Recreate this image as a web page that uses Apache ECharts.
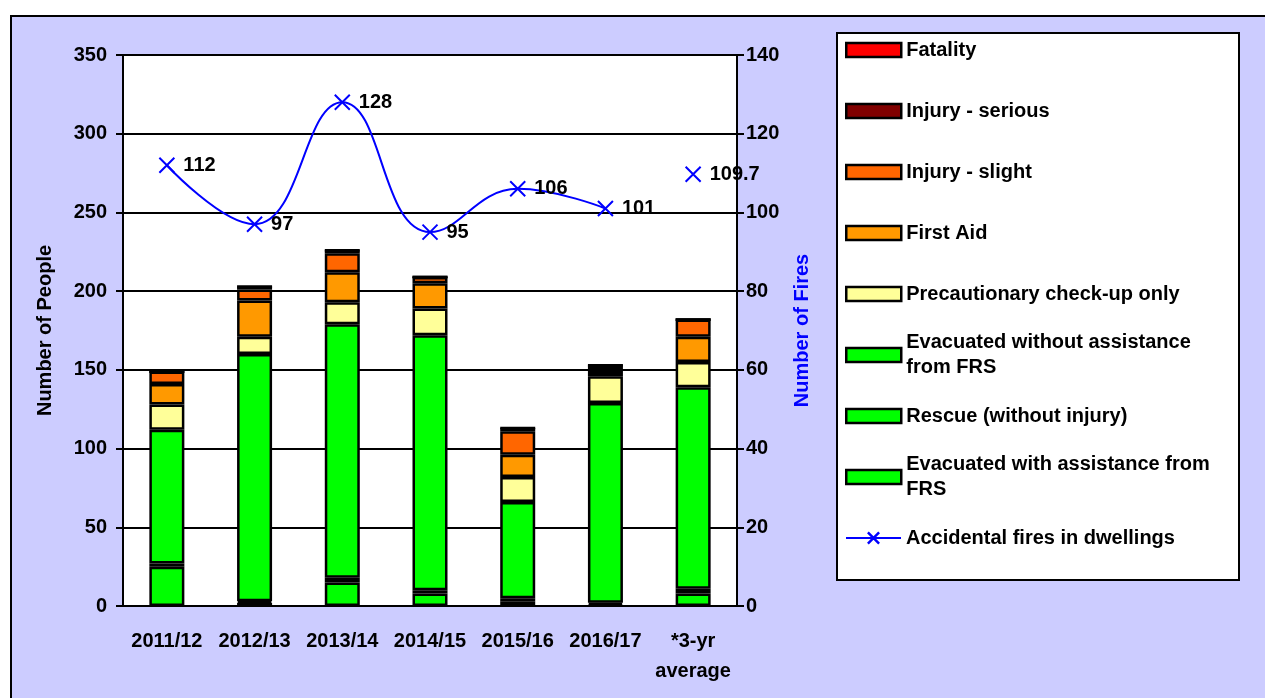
<!DOCTYPE html>
<html>
<head>
<meta charset="utf-8">
<script src="https://cdn.jsdelivr.net/npm/echarts@6/dist/echarts.min.js"></script>
<style>
  html, body { margin: 0; padding: 0; background: #fff; }
  #chart { width: 1265px; height: 698px; }
</style>
</head>
<body>
<div id="chart"></div>
<script>
// categories (x axis)
const years = ['2011/12', '2012/13', '2013/14', '2014/15', '2015/16', '2016/17', '*3-yr\naverage']

// people, stacked from the bottom up
const evacWith = [25, 2, 15, 8, 3, 1, 8]
const rescue = [2, 1, 3, 2, 2, 1, 3]
const evacWithout = [85, 157, 161, 162, 61, 127, 128]
const precaution = [16, 11, 14, 17, 16, 17, 16]
const firstAid = [13, 23, 19, 16, 14, 2, 16]
const injurySlight = [8, 7, 12, 4, 15, 2, 11]
const injurySerious = [0, 2, 2, 0, 2, 3, 0]
const fatality = [0, 0, 0, 0, 0, 0, 0]

// accidental fires (right axis)
const fires = [112, 97, 128, 95, 106, 101]
const firesAvg = 109.7

const FONT = 'Liberation Sans, Arial, sans-serif'
const txt = { fontFamily: FONT, fontWeight: 'bold', fontSize: 20, color: '#000' }

const barDefs = [
  { name: 'Evacuated with assistance from\nFRS', data: evacWith, color: '#00FF00' },
  { name: 'Rescue (without injury)', data: rescue, color: '#00FF00' },
  { name: 'Evacuated without assistance\nfrom FRS', data: evacWithout, color: '#00FF00' },
  { name: 'Precautionary check-up only', data: precaution, color: '#FFFF99' },
  { name: 'First Aid', data: firstAid, color: '#FF9900' },
  { name: 'Injury - slight', data: injurySlight, color: '#FF6600' },
  { name: 'Injury - serious', data: injurySerious, color: '#800000' },
  { name: 'Fatality', data: fatality, color: '#FF0000' }
]
const lineName = 'Accidental fires in dwellings'

const series = barDefs.map(b => ({
  name: b.name,
  type: 'bar',
  stack: 'people',
  barWidth: 35,
  data: b.data,
  itemStyle: { color: b.color, borderColor: '#000', borderWidth: 2.5 }
}))

const xMark = 'path://M0,0L10,10M10,0L0,10'
const lineCommon = {
  name: lineName,
  type: 'line',
  yAxisIndex: 1,
  symbol: xMark,
  symbolSize: 15,
  lineStyle: { color: '#0000FF', width: 2 },
  itemStyle: { color: '#0000FF', borderColor: '#0000FF', borderWidth: 2 },
  label: { show: true, position: 'right', distance: 8, ...txt },
  z: 5
}
series.push({ ...lineCommon, smooth: 0.45, data: fires.concat([null]) })
series.push({ ...lineCommon, data: years.map((y, i) => (i === years.length - 1 ? firesAvg : null)) })

// one legend per entry so the spacing matches the boxed key
const legendOrder = ['Fatality', 'Injury - serious', 'Injury - slight', 'First Aid',
  'Precautionary check-up only', 'Evacuated without assistance\nfrom FRS',
  'Rescue (without injury)', 'Evacuated with assistance from\nFRS', lineName]
const legends = legendOrder.map((name, i) => {
  const cy = 50 + i * 61
  const twoLine = name.indexOf('\n') >= 0
  return {
    data: [{ name: name, icon: name === lineName ? undefined : 'rect' }],
    left: 845,
    top: twoLine ? cy - 37.5 : cy - 12.5,
    padding: 0,
    itemWidth: 55,
    itemHeight: 14,
    selectedMode: false,
    itemStyle: { borderColor: name === lineName ? '#0000FF' : '#000', borderWidth: 2.5 },
    textStyle: { ...txt, lineHeight: 25, padding: twoLine ? [25, 0, 0, 0] : 0 }
  }
})

const chart = echarts.init(document.getElementById('chart'))
chart.setOption({
  animation: false,
  graphic: [
    { type: 'rect', z: -10, shape: { x: 11, y: 16, width: 1270, height: 700 },
      style: { fill: '#CCCCFF', stroke: '#000', lineWidth: 2 } },
    { type: 'rect', z: -5, shape: { x: 837, y: 33, width: 402, height: 547 },
      style: { fill: '#fff', stroke: '#000', lineWidth: 2 } }
  ],
  grid: { left: 123, top: 55, width: 614, height: 551, show: true, backgroundColor: '#fff', borderWidth: 0 },
  legend: legends,
  xAxis: {
    type: 'category',
    data: years,
    axisLine: { lineStyle: { color: '#000', width: 2 } },
    axisTick: { inside: true, length: 7, lineStyle: { color: '#000', width: 2 } },
    axisLabel: { ...txt, margin: 20, lineHeight: 30, interval: 0 }
  },
  yAxis: [
    {
      type: 'value',
      min: 0, max: 350, interval: 50,
      name: 'Number of People',
      nameLocation: 'middle',
      nameGap: 68,
      nameTextStyle: { ...txt },
      axisLine: { show: true, lineStyle: { color: '#000', width: 2 } },
      axisTick: { show: true, length: 7, lineStyle: { color: '#000', width: 2 } },
      axisLabel: { ...txt, margin: 16 },
      splitLine: { lineStyle: { color: '#000', width: 2 } }
    },
    {
      type: 'value',
      min: 0, max: 140, interval: 20,
      name: 'Number of Fires',
      nameLocation: 'middle',
      nameGap: 55,
      nameRotate: 90,
      nameTextStyle: { ...txt, color: '#0000FF' },
      axisLine: { show: true, lineStyle: { color: '#000', width: 2 } },
      axisTick: { show: true, length: 7, lineStyle: { color: '#000', width: 2 } },
      axisLabel: { ...txt, margin: 9 },
      splitLine: { show: false }
    }
  ],
  series: series
})
</script>
</body>
</html>
